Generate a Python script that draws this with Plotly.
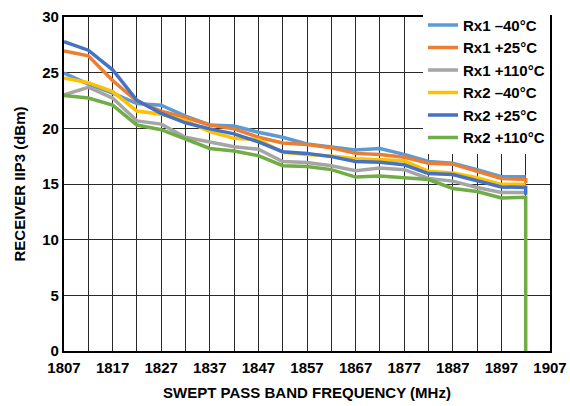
import plotly.graph_objects as go

freq = [1807, 1812, 1817, 1822, 1827, 1832, 1837, 1842, 1847, 1852,
        1857, 1862, 1867, 1872, 1877, 1882, 1887, 1892, 1897, 1902, 1902]

rx1_m40 = [24.97, 23.98, 23.17, 22.23, 22.08, 21.1, 20.3, 20.2, 19.65, 19.2,
           18.6, 18.34, 18.05, 18.19, 17.66, 17.02, 16.87, 16.29, 15.65, 15.65, 15.65]
rx1_p25 = [26.96, 26.52, 24.3, 22.43, 21.55, 20.97, 20.3, 19.95, 19.2, 18.69,
           18.54, 18.25, 17.75, 17.66, 17.4, 16.87, 16.78, 16.14, 15.5, 15.4, 15.1]
rx1_p110 = [23.0, 23.69, 22.72, 20.67, 20.38, 19.2, 18.78, 18.34, 18.13, 17.02,
            16.93, 16.64, 16.2, 16.44, 16.29, 15.5, 15.26, 14.68, 14.24, 14.24, 14.24]
rx2_m40 = [24.53, 24.1, 23.3, 21.55, 21.26, 20.7, 19.7, 19.1, 18.98, 17.84,
           17.66, 17.52, 17.26, 17.17, 17.08, 16.14, 16.0, 15.56, 14.97, 14.97, 14.97]
rx2_p25 = [27.78, 27.02, 25.26, 22.52, 21.35, 20.5, 19.95, 19.5, 18.78, 17.9,
           17.75, 17.46, 17.02, 16.96, 16.73, 15.94, 15.85, 15.26, 14.74, 14.68, 14.04]
rx2_p110 = [22.95, 22.72, 22.08, 20.3, 19.88, 19.07, 18.19, 17.96, 17.55, 16.64,
            16.58, 16.29, 15.62, 15.71, 15.56, 15.4, 14.6, 14.33, 13.75, 13.8, 0.0]

series_names = ["Rx1 –40°C", "Rx1 +25°C", "Rx1 +110°C",
                "Rx2 –40°C", "Rx2 +25°C", "Rx2 +110°C"]
series_values = [rx1_m40, rx1_p25, rx1_p110, rx2_m40, rx2_p25, rx2_p110]
series_colors = ["#5B9BD5", "#ED7D31", "#A5A5A5", "#FFC000", "#4472C4", "#70AD47"]

x_ticks = [1807, 1817, 1827, 1837, 1847, 1857, 1867, 1877, 1887, 1897, 1907]
y_ticks = [0, 5, 10, 15, 20, 25, 30]

FONT = "Liberation Sans, Arial, sans-serif"
BOLD15 = dict(family=FONT, size=15, color="black", weight="bold")

fig = go.Figure()
for i in range(6):
    fig.add_trace(go.Scatter(
        x=freq, y=series_values[i], mode="lines", name=series_names[i],
        line=dict(color=series_colors[i], width=3.5),
    ))

fig.update_layout(
    width=570, height=406,
    margin=dict(l=64, r=20, t=9, b=55),
    paper_bgcolor="white", plot_bgcolor="white",
    font=BOLD15,
    showlegend=True,
    legend=dict(
        x=1.0, y=1.025, xanchor="right", yanchor="top",
        bgcolor="white", borderwidth=0,
        font=BOLD15,
        tracegroupgap=0, itemwidth=30,
    ),
    xaxis=dict(
        range=[1807, 1907], tickmode="array", tickvals=x_ticks,
        ticktext=[str(v) for v in x_ticks],
        showgrid=True, gridcolor="#2a2a2a", gridwidth=1.4,
        minor=dict(dtick=5, tick0=1807, showgrid=True, gridcolor="#2a2a2a", gridwidth=1.4),
        showline=True, linecolor="black", linewidth=2.2, mirror=True,
        ticks="", zeroline=False, automargin=False, ticklabelstandoff=2,
        tickfont=BOLD15,
        title=dict(text="SWEPT PASS BAND FREQUENCY (MHz)", standoff=12, font=BOLD15),
    ),
    yaxis=dict(
        range=[0, 30], tickmode="array", tickvals=y_ticks,
        showgrid=True, gridcolor="#2a2a2a", gridwidth=1.4,
        showline=True, linecolor="black", linewidth=2.2, mirror=True,
        ticks="", zeroline=False, automargin=False,
        tickfont=BOLD15,
        title=dict(text="RECEIVER IIP3 (dBm)", standoff=13, font=BOLD15),
    ),
)

fig.write_html("out.html", config={"displayModeBar": False},
               post_script="document.body.style.margin='0';")
